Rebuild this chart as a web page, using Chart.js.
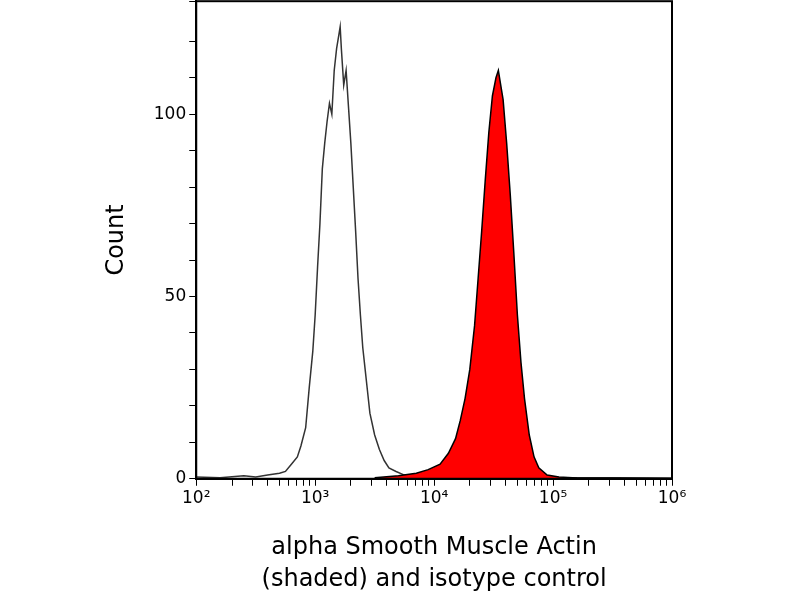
<!DOCTYPE html>
<html><head><script src="https://cdn.jsdelivr.net/npm/chart.js@4"></script>
<style>body{margin:0;background:#fff;overflow:hidden}canvas{display:block;margin-top:-12px}</style></head>
<body><canvas id="c" width="800" height="612" style="width:800px;height:612px"></canvas>
<script>
const isoLog=[2.00,2.2,2.4,2.5,2.6,2.7,2.75,2.8,2.85,2.88,2.92,2.95,2.98,3.00,3.02,3.04,3.06,3.08,3.10,3.12,3.14,3.16,3.18,3.20,3.21,3.22,3.24,3.26,3.28,3.30,3.32,3.34,3.36,3.38,3.40,3.42,3.44,3.46,3.50,3.54,3.58,3.62,3.68,3.75,3.85,4.0,4.5,5,5.5,6];
const isoCount=[0.5,0.3,0.8,0.5,1,1.5,2,4,6,9,14,25,35,45,58,70,85,92,98,103,100,112,118,122,124,118,108,112,102,92,80,68,55,45,36,30,24,18,12,8,5,3,2,1,1.2,0.5,0.3,0.3,0.3,0.2];
const redLog=[3.5,3.7,3.85,3.95,4.05,4.12,4.18,4.22,4.26,4.30,4.34,4.37,4.40,4.43,4.46,4.49,4.52,4.54,4.56,4.58,4.61,4.64,4.67,4.70,4.73,4.76,4.80,4.84,4.88,4.95,5.05,5.2,6];
const redCount=[0.3,0.8,1.5,2.5,4,7,11,16,22,30,42,55,68,82,95,105,110,112,108,104,92,78,62,45,32,22,12,6,3,1,0.5,0.2,0];
const xTickLabels={2:'10²',3:'10³',4:'10⁴',5:'10⁵',6:'10⁶'};
const yTickLabels=[0,50,100];
const pts=(l,c)=>l.map((v,i)=>({x:Math.pow(10,v),y:c[i]}));
const frame={id:'frame',afterDraw(ch){const a=ch.chartArea,g=ch.ctx;g.save();g.strokeStyle='#000';g.lineWidth=2;g.strokeRect(a.left,a.top,a.right-a.left,a.bottom-a.top);g.restore();}};
new Chart(document.getElementById('c'),{type:'line',
data:{datasets:[
{data:pts(redLog,redCount),borderColor:'#000',borderWidth:1.5,backgroundColor:'#ff0000',fill:'origin',pointRadius:0,tension:0},
{data:pts(isoLog,isoCount),borderColor:'#333',borderWidth:1.5,fill:false,pointRadius:0,tension:0}]},
options:{responsive:false,animation:false,layout:{padding:{left:98,right:128,top:0,bottom:0}},
plugins:{legend:{display:false},tooltip:{enabled:false}},
scales:{
x:{type:'logarithmic',min:100,max:1e6,border:{color:'#000',width:2},
 grid:{drawOnChartArea:false,color:'#000',tickLength:7},
 afterBuildTicks(s){const t=[];for(let e=2;e<6;e++)for(let m=1;m<10;m++)t.push({value:m*Math.pow(10,e)});t.push({value:1e6});s.ticks=t;},
 ticks:{autoSkip:false,maxRotation:0,color:'#000',font:{size:17,family:'DejaVu Sans'},callback(v){const e=Math.round(Math.log10(v));return Math.abs(Math.pow(10,e)-v)<1e-6?xTickLabels[e]:'';}},
 title:{display:true,text:['alpha Smooth Muscle Actin','(shaded) and isotype control'],color:'#000',font:{size:24,family:'DejaVu Sans',lineHeight:1.33},padding:{top:20}}},
y:{min:0,max:131,border:{color:'#000',width:2},grid:{drawOnChartArea:false,color:'#000',tickLength:7},
 ticks:{stepSize:10,autoSkip:false,color:'#000',font:{size:17,family:'DejaVu Sans'},callback(v){return yTickLabels.includes(v)?String(v):'';}},
 title:{display:true,text:'Count',color:'#000',font:{size:24,family:'DejaVu Sans'},padding:{bottom:20}}}}},
plugins:[frame]});
</script></body></html>
